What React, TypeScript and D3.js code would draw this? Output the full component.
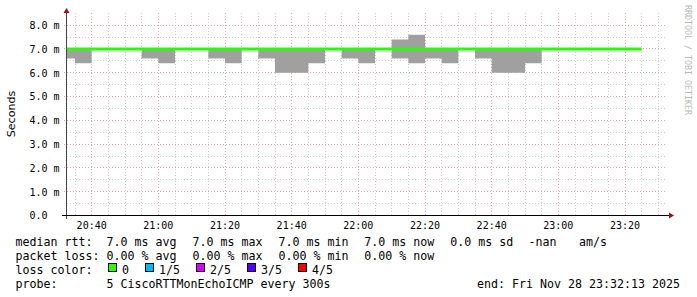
import React from 'react';
import * as d3 from 'd3';

// ---- data ----
const stepStarts = [
  '20:30', '20:35', '20:40', '20:45', '20:50', '20:55', '21:00', '21:05', '21:10', '21:15',
  '21:20', '21:25', '21:30', '21:35', '21:40', '21:45', '21:50', '21:55', '22:00', '22:05',
  '22:10', '22:15', '22:20', '22:25', '22:30', '22:35', '22:40', '22:45', '22:50', '22:55',
  '23:00', '23:05', '23:10', '23:15', '23:20',
];
const medianRtt = [
  7.0, 7.0, 7.0, 7.0, 7.0, 7.0, 7.0, 7.0, 7.0, 7.0,
  7.0, 7.0, 7.0, 7.0, 7.0, 7.0, 7.0, 7.0, 7.0, 7.0,
  7.0, 7.0, 7.0, 7.0, 7.0, 7.0, 7.0, 7.0, 7.0, 7.0,
  7.0, 7.0, 7.0, 7.0, 7.0,
];
const smokeMin = [
  6.6, 6.4, 7.0, 7.0, 7.0, 6.6, 6.4, 7.0, 7.0, 6.6,
  6.4, 7.0, 6.6, 6.0, 6.0, 6.4, 7.0, 6.6, 6.4, 7.0,
  6.6, 6.4, 6.6, 6.4, 7.0, 6.6, 6.0, 6.0, 6.4, 7.0,
  7.0, 7.0, 7.0, 7.0, 7.0,
];
const smokeMax = [
  7.0, 7.0, 7.0, 7.0, 7.0, 7.0, 7.0, 7.0, 7.0, 7.0,
  7.0, 7.0, 7.0, 7.0, 7.0, 7.0, 7.0, 7.0, 7.0, 7.0,
  7.4, 7.6, 7.0, 7.0, 7.0, 7.0, 7.0, 7.0, 7.0, 7.0,
  7.0, 7.0, 7.0, 7.0, 7.0,
];
const yTicks = [0, 1, 2, 3, 4, 5, 6, 7, 8];
const yTickLabels = ['0.0', '1.0 m', '2.0 m', '3.0 m', '4.0 m', '5.0 m', '6.0 m', '7.0 m', '8.0 m'];
const lossLabels = ['0', '1/5', '2/5', '3/5', '4/5'];
const lossColors = ['#26ff00', '#00b8ff', '#dd00ff', '#5500ff', '#ff0000'];
const legendLine1 = ['median rtt:', '7.0 ms avg', '7.0 ms max', '7.0 ms min', '7.0 ms now', '0.0 ms sd', '-nan', 'am/s'];
const legendLine2 = ['packet loss:', '0.00 % avg', '0.00 % max', '0.00 % min', '0.00 % now'];
const probeText = '5 CiscoRTTMonEchoICMP every 300s';
const endText = 'end: Fri Nov 28 23:32:13 2025';

const parseT = (s: string, sec = 0) => {
  const [h, m] = s.split(':').map(Number);
  return new Date(2025, 10, 28, h, m, sec);
};

export default function App() {
  const W = 697, H = 297;
  const L = 67, R = 667, T = 13.3, B = 215.5;
  const x = d3.scaleTime().domain([parseT('20:32', 36), parseT('23:32', 36)]).range([L, R]);
  const y = d3.scaleLinear().domain([0, 8.5]).range([B, T]);

  const pts = stepStarts.map((s, i) => ({ t: parseT(s), lo: smokeMin[i], hi: smokeMax[i], med: medianRtt[i] }));
  const last = pts[pts.length - 1];
  pts.push({ ...last, t: d3.timeMinute.offset(last.t, 5) });

  const area = d3.area<any>().x(d => x(d.t)).y0(d => y(d.lo)).y1(d => y(d.hi)).curve(d3.curveStepAfter);
  const line = d3.line<any>().x(d => x(d.t)).y(d => y(d.med)).curve(d3.curveStepAfter);

  const minorX = x.ticks(d3.timeMinute.every(5) as any);
  const majorX = x.ticks(d3.timeMinute.every(20) as any);
  const fmt = d3.timeFormat('%H:%M');
  const minorY = d3.range(0, 17).map(i => i * 0.5);

  const mono = '"DejaVu Sans Mono", monospace';
  const cw = 7;
  const l1x = [15.5, 106.6, 192.5, 278.4, 364.3, 450.3, 528.5, 579];

  let bx = 108;
  const boxes = lossLabels.map((lab, i) => {
    const b = { x: bx, lab, col: lossColors[i] };
    bx = bx + 14 + lab.length * cw + 16;
    return b;
  });

  const snap = (v: number) => Math.round(v - 0.5) + 0.5;

  return (
    <svg width={W} height={H} style={{ position: 'absolute', left: 0, top: 0, background: '#fff' }}>
      <rect x={0} y={0} width={W} height={H} fill="#fff" />
      <defs>
        <clipPath id="plot"><rect x={L} y={T} width={R - L} height={B - T} /></clipPath>
      </defs>
      {/* grid */}
      <g shapeRendering="crispEdges" strokeDasharray="1,2" strokeWidth={1}>
        {minorY.filter(v => v % 1 !== 0).map(v => (
          <line key={'my' + v} x1={L} x2={R} y1={snap(y(v))} y2={snap(y(v))} stroke="#cfcfcf" />
        ))}
        {minorX.filter(t => !majorX.some(m => +m === +t)).map(t => (
          <line key={'mx' + +t} x1={snap(x(t))} x2={snap(x(t))} y1={T} y2={B} stroke="#cfcfcf" />
        ))}
        {yTicks.filter(v => v > 0).map(v => (
          <line key={'My' + v} x1={L - 3} x2={R} y1={snap(y(v))} y2={snap(y(v))} stroke="#e8a3a3" />
        ))}
        {majorX.map(t => (
          <line key={'Mx' + +t} x1={snap(x(t))} x2={snap(x(t))} y1={T} y2={B + 2} stroke="#e8a3a3" />
        ))}
      </g>
      {/* smoke + median */}
      <g clipPath="url(#plot)">
        <path d={area(pts) || ''} fill="#a0a0a0" />
        <path d={line(pts) || ''} fill="none" stroke="#26ff00" strokeWidth={3} />
      </g>
      {/* axes */}
      <line x1={66.5} x2={66.5} y1={B + 3} y2={11} stroke="#444" strokeWidth={1} shapeRendering="crispEdges" />
      <line x1={62} x2={669} y1={215.5} y2={215.5} stroke="#000" strokeWidth={1} shapeRendering="crispEdges" />
      <path d="M66.5,8 L63.5,13 L69.5,13 Z" fill="#9b1010" />
      <path d="M674,215.5 L669,212.5 L669,218.5 Z" fill="#9b1010" />
      {/* tick labels */}
      <g fontFamily={mono} fontSize={10} fill="#000">
        {yTicks.map((v, i) => (
          <text key={'yl' + v} x={29.4} y={y(v) + 3.8}>{yTickLabels[i]}</text>
        ))}
        {majorX.map(t => (
          <text key={'xl' + +t} x={x(t)} y={229} textAnchor="middle">{fmt(t)}</text>
        ))}
      </g>
      <text transform="translate(15,114) rotate(-90)" textAnchor="middle" fontFamily='"DejaVu Sans", sans-serif' fontSize={11.1} fill="#000">Seconds</text>
      <text transform="translate(685,5) rotate(90)" fontFamily={mono} fontSize={8.3} fill="#b8b8b8">RRDTOOL / TOBI OETIKER</text>
      {/* legend */}
      <g fontFamily={mono} fontSize={11.63} fill="#000" style={{ whiteSpace: 'pre' }}>
        {legendLine1.map((s, i) => <text key={'l1' + i} x={l1x[i]} y={246}>{s}</text>)}
        {legendLine2.map((s, i) => <text key={'l2' + i} x={l1x[i]} y={260}>{s}</text>)}
        <text x={l1x[0]} y={273.8}>loss color:</text>
        {boxes.map(b => (
          <g key={'b' + b.lab}>
            <rect x={b.x + 0.5} y={263.5} width={8} height={8} fill={b.col} stroke="#000" strokeWidth={1} />
            <text x={b.x + 14} y={273.8}>{b.lab}</text>
          </g>
        ))}
        <text x={l1x[0]} y={287.6}>probe:</text>
        <text x={l1x[1]} y={287.6}>{probeText}</text>
        <text x={477} y={287.6}>{endText}</text>
      </g>
    </svg>
  );
}
